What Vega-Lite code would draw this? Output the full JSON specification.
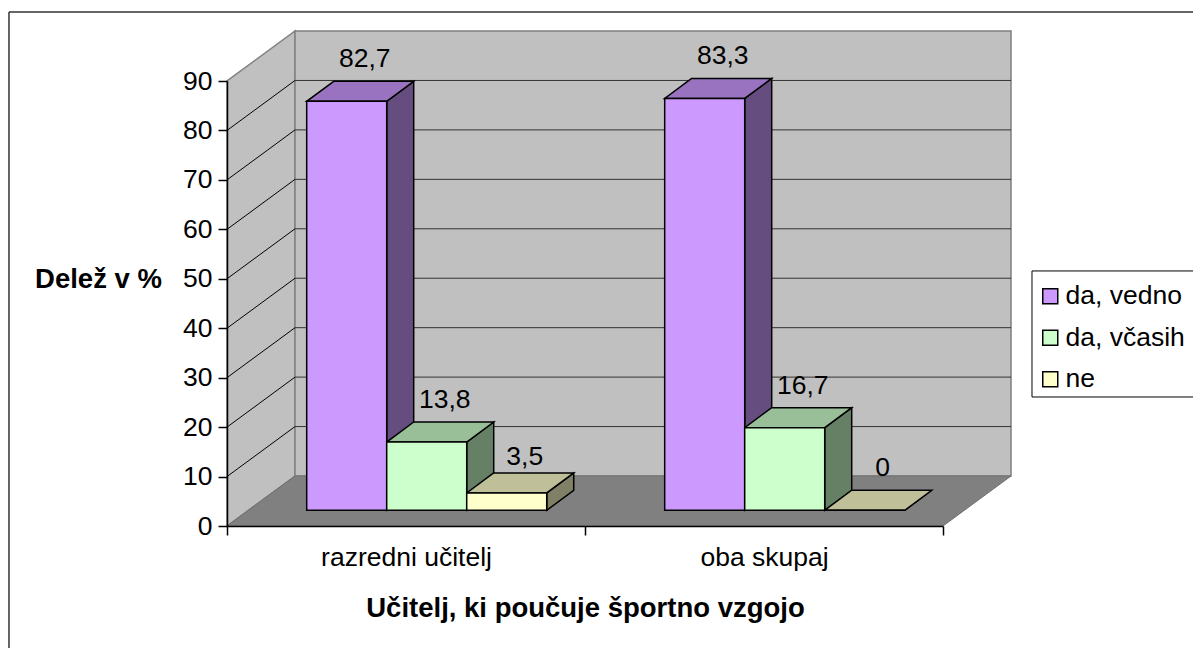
{
"$schema":"https://vega.github.io/schema/vega-lite/v6.json",
"width":716,"height":445,"autosize":"none",
"padding":{"left":227,"top":81,"right":250,"bottom":122},
"background":"white",
"config":{"view":{"stroke":null},"font":"Liberation Sans","axis":{"grid":false}},
"datasets":{
"bars":[
{"cat":"razredni učitelj","series":"da, vedno","value":82.7},
{"cat":"razredni učitelj","series":"da, včasih","value":13.8},
{"cat":"razredni učitelj","series":"ne","value":3.5},
{"cat":"oba skupaj","series":"da, vedno","value":83.3},
{"cat":"oba skupaj","series":"da, včasih","value":16.7},
{"cat":"oba skupaj","series":"ne","value":0}
],
"ticks":[{"v":10},{"v":20},{"v":30},{"v":40},{"v":50},{"v":60},{"v":70},{"v":80}],
"one":[{"k":"wall"}]
},
"resolve":{"scale":{"color":"independent"}},
"layer":[
{"data":{"name":"one"},
 "transform":[{"calculate":"[0,1]","as":"t"},{"flatten":["t"]},
  {"calculate":"datum.t*0.19","as":"x"},{"calculate":"datum.t*10.11","as":"y"},{"calculate":"90+datum.t*10.11","as":"y2"}],
 "mark":{"type":"area","orient":"vertical","fill":"#C0C0C0","stroke":"#808080","strokeWidth":1.5},
 "encoding":{
  "x":{"field":"x","type":"quantitative","title":"Učitelj, ki poučuje športno vzgojo",
   "scale":{"domain":[0,2],"nice":false,"zero":false},
   "axis":{"values":[0,0.5,1,1.5,2],"labelExpr":"datum.value==0.5?'razredni učitelj':datum.value==1.5?'oba skupaj':''",
    "tickOpacity":{"condition":{"test":"datum.value==0.5||datum.value==1.5","value":0},"value":1},
    "labelFontSize":26.5,"labelColor":"black","labelPadding":9,"labelOverlap":false,"labelFlush":false,"tickSize":9,"tickColor":"black","tickWidth":1.5,"domainColor":"black","domainWidth":1.5,"titleFontSize":27.5,"titleFontWeight":"bold","titleColor":"black","titlePadding":24,"grid":false,"zindex":1}},
  "y":{"field":"y","type":"quantitative","title":"Delež v %",
   "scale":{"domain":[0,90],"nice":false,"zero":false},
   "axis":{"values":[0,10,20,30,40,50,60,70,80,90],"labelFontSize":26.5,"labelColor":"black","labelPadding":6,"tickSize":9,"tickColor":"black","tickWidth":1.5,"domainColor":"black","domainWidth":1.5,"titleFontSize":27.5,"titleFontWeight":"bold","titleColor":"black","titleAngle":0,"titleAlign":"center","titleBaseline":"middle","titleX":-129,"titleY":198,"grid":false,"zindex":1}},
  "y2":{"field":"y2"}
 }},
{"data":{"name":"one"},
 "mark":{"type":"rect","fill":"#C0C0C0","stroke":"#808080","strokeWidth":1.5},
 "encoding":{"x":{"datum":0.19,"type":"quantitative"},"x2":{"datum":2.19},"y":{"datum":10.11,"type":"quantitative"},"y2":{"datum":100.11}}},
{"data":{"name":"one"},
 "transform":[{"calculate":"[0,1]","as":"t"},{"flatten":["t"]},
  {"calculate":"datum.t*0.19","as":"x"},{"calculate":"2+datum.t*0.19","as":"x2"},{"calculate":"datum.t*10.11","as":"y"}],
 "mark":{"type":"area","orient":"horizontal","fill":"#808080","stroke":"#707070","strokeWidth":1},
 "encoding":{"x":{"field":"x","type":"quantitative"},"x2":{"field":"x2"},"y":{"field":"y","type":"quantitative"}}},
{"data":{"name":"ticks"},
 "transform":[{"calculate":"datum.v+10.11","as":"vb"},{"calculate":"0","as":"a"},{"calculate":"0.19","as":"b"}],
 "mark":{"type":"rule","stroke":"black","strokeWidth":1},
 "encoding":{"x":{"field":"a","type":"quantitative"},"x2":{"field":"b"},"y":{"field":"v","type":"quantitative"},"y2":{"field":"vb"}}},
{"data":{"name":"ticks"},
 "transform":[{"calculate":"datum.v+10.11","as":"vb"},{"calculate":"0.19","as":"a"},{"calculate":"2.19","as":"b"}],
 "mark":{"type":"rule","stroke":"#333333","strokeWidth":1},
 "encoding":{"x":{"field":"a","type":"quantitative"},"x2":{"field":"b"},"y":{"field":"vb","type":"quantitative"}}},
{"data":{"name":"bars"},
 "transform":[
  {"calculate":"indexof(['razredni učitelj','oba skupaj'],datum.cat)+0.2226+indexof(['da, vedno','da, včasih','ne'],datum.series)*0.2235","as":"x0"},
  {"calculate":"datum.x0+0.2235","as":"x1"},{"calculate":"3.18+datum.value","as":"top"},
  {"calculate":"[0,1]","as":"t"},{"flatten":["t"]},
  {"calculate":"datum.x1+datum.t*0.0754","as":"sx"},{"calculate":"3.18+datum.t*4.05","as":"sy"},{"calculate":"datum.top+datum.t*4.05","as":"sy2"}],
 "mark":{"type":"area","orient":"vertical","stroke":"black","strokeWidth":1.5,"opacity":1},
 "encoding":{"x":{"field":"sx","type":"quantitative"},"y":{"field":"sy","type":"quantitative"},"y2":{"field":"sy2"},"detail":{"field":"cat"},
  "color":{"field":"series","type":"nominal","legend":null,"scale":{"domain":["da, vedno","da, včasih","ne"],"range":["#664D80","#668066","#808066"]}}}},
{"data":{"name":"bars"},
 "transform":[
  {"calculate":"indexof(['razredni učitelj','oba skupaj'],datum.cat)+0.2226+indexof(['da, vedno','da, včasih','ne'],datum.series)*0.2235","as":"x0"},
  {"calculate":"datum.x0+0.2235","as":"x1"},{"calculate":"3.18+datum.value","as":"top"},
  {"calculate":"[0,1]","as":"t"},{"flatten":["t"]},
  {"calculate":"datum.x0+datum.t*0.0754","as":"tx"},{"calculate":"datum.x1+datum.t*0.0754","as":"tx2"},{"calculate":"datum.top+datum.t*4.05","as":"ty"}],
 "mark":{"type":"area","orient":"horizontal","stroke":"black","strokeWidth":1.5,"opacity":1},
 "encoding":{"x":{"field":"tx","type":"quantitative"},"x2":{"field":"tx2"},"y":{"field":"ty","type":"quantitative"},"detail":{"field":"cat"},
  "color":{"field":"series","type":"nominal","legend":null,"scale":{"domain":["da, vedno","da, včasih","ne"],"range":["#9973BF","#99BF99","#BFBF99"]}}}},
{"data":{"name":"one"},
 "mark":{"type":"rect","fill":"white","stroke":"black","strokeWidth":1},
 "encoding":{"x":{"datum":2.2486,"type":"quantitative"},"x2":{"datum":2.72},"y":{"datum":26.09,"type":"quantitative"},"y2":{"datum":51.58}}},
{"data":{"name":"bars"},
 "transform":[
  {"calculate":"indexof(['razredni učitelj','oba skupaj'],datum.cat)+0.2226+indexof(['da, vedno','da, včasih','ne'],datum.series)*0.2235","as":"x0"},
  {"calculate":"datum.x0+0.2235","as":"x1"},{"calculate":"3.18+datum.value","as":"top"},{"calculate":"3.18","as":"base"}],
 "mark":{"type":"rect","stroke":"black","strokeWidth":1.5,"opacity":1},
 "encoding":{"x":{"field":"x0","type":"quantitative"},"x2":{"field":"x1"},"y":{"field":"base","type":"quantitative"},"y2":{"field":"top"},
  "color":{"field":"series","type":"nominal","sort":null,"scale":{"domain":["da, vedno","da, včasih","ne"],"range":["#CC99FF","#CCFFCC","#FFFFCC"]},
   "legend":{"orient":"none","legendX":810,"legendY":202,"title":null,"symbolType":"square","symbolSize":225,"symbolStrokeColor":"black","symbolStrokeWidth":1.5,"symbolOpacity":1,"labelFontSize":26.5,"labelColor":"black","labelLimit":300,"rowPadding":14.5,"padding":0,"labelOffset":2}}}},
{"data":{"name":"bars"},
 "transform":[
  {"calculate":"indexof(['razredni učitelj','oba skupaj'],datum.cat)+0.2226+indexof(['da, vedno','da, včasih','ne'],datum.series)*0.2235+0.11175","as":"xc"},
  {"calculate":"datum.value>0&&datum.value<5?datum.value+1.98:datum.value+3.18","as":"top"},{"calculate":"replace(toString(datum.value),'.',',')","as":"lab"}],
 "mark":{"type":"text","fontSize":26.5,"color":"black","dx":18,"dy":-42,"baseline":"middle","align":"center"},
 "encoding":{"x":{"field":"xc","type":"quantitative"},"y":{"field":"top","type":"quantitative"},"text":{"field":"lab"}}},
{"data":{"name":"one"},
 "mark":{"type":"rule","stroke":"#333333","strokeWidth":1.5},
 "encoding":{"x":{"datum":-0.609,"type":"quantitative"},"y":{"datum":-30,"type":"quantitative"},"y2":{"datum":103.96}}},
{"data":{"name":"one"},
 "mark":{"type":"rule","stroke":"#333333","strokeWidth":1.5},
 "encoding":{"y":{"datum":103.96,"type":"quantitative"},"x":{"datum":-0.609,"type":"quantitative"},"x2":{"datum":2.72}}}
]
}
